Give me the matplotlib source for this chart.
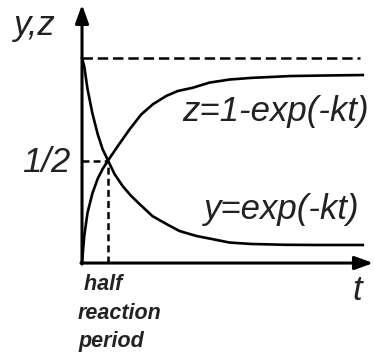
'''First-order reaction: reactant y decays while product z grows.'''

import matplotlib
matplotlib.use('Agg')
import matplotlib.pyplot as plt

# time in half-life units
t_y = [0, 0.085, 0.21, 0.40, 0.60, 0.79, 1.0, 1.25, 1.56, 1.87, 2.21, 2.71,
       3.25, 3.75, 4.4, 5.0, 5.67, 6.5, 7.8, 9.0, 10.8]
y_vals = [1.0, 0.96, 0.85, 0.73, 0.63, 0.556, 0.5, 0.434, 0.376, 0.33, 0.288,
          0.229, 0.19, 0.156, 0.132, 0.117, 0.1, 0.093, 0.089, 0.088, 0.088]

t_z = [0, 0.085, 0.21, 0.40, 0.60, 0.79, 1.0, 1.38, 1.83, 2.28, 2.72, 3.24,
       3.68, 4.26, 4.9, 5.67, 6.5, 8.0, 9.5, 10.8]
z_vals = [0, 0.13, 0.244, 0.34, 0.41, 0.458, 0.5, 0.571, 0.652, 0.725, 0.774,
          0.815, 0.839, 0.855, 0.88, 0.895, 0.903, 0.912, 0.915, 0.917]

t_half = 1.0
level_full = 1.0
level_half = 0.5
t_end = 10.7

plt.rcParams['font.family'] = ['Liberation Sans', 'DejaVu Sans']
plt.rcParams['lines.scale_dashes'] = False

fig = plt.figure(figsize=(3.74, 3.52), dpi=100)
ax = fig.add_axes([0, 0, 1, 1])
ax.set_xlim(-3.154, 11.23)
ax.set_ylim(-0.434, 1.283)
ax.axis('off')

# axes with arrow heads
arrow = dict(arrowstyle='-|>,head_length=0.55,head_width=0.2', lw=2.2,
             color='black', shrinkA=0, shrinkB=0, mutation_scale=20)
ax.annotate('', xy=(0, 1.26), xytext=(0, -0.005), arrowprops=arrow)
ax.annotate('', xy=(11.2, 0), xytext=(-0.04, 0), arrowprops=arrow)

# guide lines
ax.plot([0, t_end], [level_full, level_full], color='black', lw=1.8, dashes=(7.5, 3.5))
ax.plot([0, t_half], [level_half, level_half], color='black', lw=1.8, dashes=(5, 3))
ax.plot([t_half, t_half], [0, level_half], color='black', lw=1.8, dashes=(5, 3))

# the two curves
ax.plot(t_y, y_vals, color='black', lw=1.9, solid_joinstyle='round')
ax.plot(t_z, z_vals, color='black', lw=1.9, solid_joinstyle='round')

big = dict(fontsize=25, fontstyle='italic', color='#222222')
ax.text(-1.81, 1.161, 'y,z', ha='center', va='center', **big)
ax.text(-1.38, 0.49, '1/2', ha='center', va='center', **big)
ax.text(3.85, 0.737, 'z=1-exp(-kt)', ha='left', va='center', **big)
ax.text(4.69, 0.263, 'y=exp(-kt)', ha='left', va='center', **big)
ax.text(10.58, -0.134, 't', ha='center', va='center', **big)

ax.text(-0.15, -0.055, ' half\nreaction\nperiod', ha='left', va='top',
        fontsize=15.5, fontstyle='italic', fontweight='bold', color='#222222',
        linespacing=1.45)

fig.savefig('out.png', dpi=100, facecolor='white')
